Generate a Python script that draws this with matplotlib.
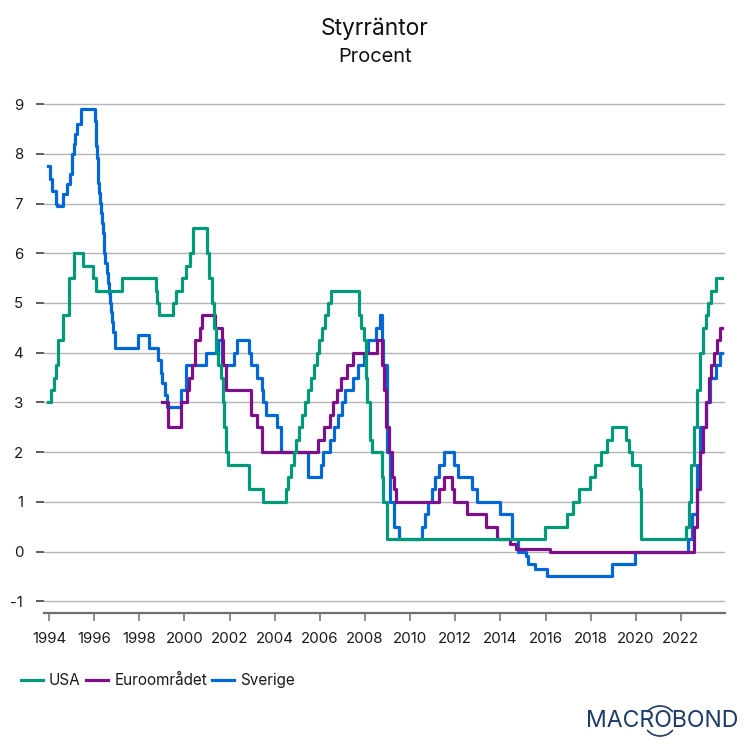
import matplotlib
matplotlib.use('Agg')
import matplotlib.pyplot as plt
from matplotlib.patches import Arc

plt.rcParams['font.family'] = ['Inter', 'DejaVu Sans']
plt.rcParams['axes.unicode_minus'] = False

usa_t = [1993.95, 1994.09, 1994.21, 1994.30, 1994.38, 1994.63, 1994.87, 1995.09, 1995.51, 1995.96, 1996.08,
         1997.23, 1998.75, 1998.80, 1998.88, 1999.50, 1999.65, 1999.88, 2000.09, 2000.23, 2000.38, 2001.01, 2001.09,
         2001.23, 2001.31, 2001.38, 2001.48, 2001.64, 2001.71, 2001.76, 2001.86, 2001.95, 2002.85, 2003.48, 2004.49,
         2004.61, 2004.72, 2004.86, 2004.95, 2005.09, 2005.23, 2005.34, 2005.49, 2005.61, 2005.72, 2005.86, 2005.95,
         2006.09, 2006.23, 2006.36, 2006.49, 2007.72, 2007.83, 2007.95, 2008.06, 2008.08, 2008.21, 2008.30, 2008.77,
         2008.82, 2008.96, 2015.96, 2016.95, 2017.21, 2017.46, 2017.96, 2018.21, 2018.46, 2018.72, 2018.96, 2019.58,
         2019.71, 2019.83, 2020.17, 2020.21, 2022.21, 2022.34, 2022.46, 2022.57, 2022.72, 2022.84, 2022.96, 2023.09,
         2023.21, 2023.34, 2023.57, 2023.80]
usa_v = [3.0, 3.25, 3.5, 3.75, 4.25, 4.75, 5.5, 6.0, 5.75, 5.5, 5.25,
         5.5, 5.25, 5.0, 4.75, 5.0, 5.25, 5.5, 5.75, 6.0, 6.5, 6.0, 5.5,
         5.0, 4.5, 4.0, 3.75, 3.5, 3.0, 2.5, 2.0, 1.75, 1.25, 1.0, 1.25,
         1.5, 1.75, 2.0, 2.25, 2.5, 2.75, 3.0, 3.25, 3.5, 3.75, 4.0, 4.25,
         4.5, 4.75, 5.0, 5.25, 4.75, 4.5, 4.25, 3.5, 3.0, 2.25, 2.0, 1.5,
         1.0, 0.25, 0.5, 0.75, 1.0, 1.25, 1.5, 1.75, 2.0, 2.25, 2.5, 2.25,
         2.0, 1.75, 1.25, 0.25, 0.5, 1.0, 1.75, 2.5, 3.25, 4.0, 4.5, 4.75,
         5.0, 5.25, 5.5, 5.5]

euro_t = [1999.0, 1999.27, 1999.85, 2000.10, 2000.22, 2000.33, 2000.45, 2000.69, 2000.77, 2001.37, 2001.67,
          2001.72, 2001.86, 2002.93, 2003.20, 2003.45, 2005.93, 2006.20, 2006.45, 2006.60, 2006.77, 2006.93, 2007.20,
          2007.45, 2008.52, 2008.77, 2008.85, 2008.93, 2009.05, 2009.20, 2009.27, 2009.36, 2011.27, 2011.52, 2011.85,
          2011.94, 2012.52, 2013.35, 2013.85, 2014.44, 2014.69, 2016.20, 2022.57, 2022.70, 2022.85, 2022.96, 2023.10,
          2023.22, 2023.35, 2023.46, 2023.59, 2023.71, 2023.80]
euro_v = [3.0, 2.5, 3.0, 3.25, 3.5, 3.75, 4.25, 4.5, 4.75, 4.5, 4.25,
          3.75, 3.25, 2.75, 2.5, 2.0, 2.25, 2.5, 2.75, 3.0, 3.25, 3.5, 3.75,
          4.0, 4.25, 3.75, 3.25, 2.5, 2.0, 1.5, 1.25, 1.0, 1.25, 1.5, 1.25,
          1.0, 0.75, 0.5, 0.25, 0.15, 0.05, 0.0, 0.5, 1.25, 2.0, 2.5, 3.0,
          3.5, 3.75, 4.0, 4.25, 4.5, 4.5]

sverige_t = [1993.95, 1994.04, 1994.13, 1994.30, 1994.35, 1994.62, 1994.80, 1994.93, 1995.02, 1995.09, 1995.15, 1995.25,
             1995.42, 1996.04, 1996.07, 1996.10, 1996.13, 1996.16, 1996.19, 1996.22, 1996.26, 1996.30, 1996.34, 1996.38,
             1996.42, 1996.46, 1996.50, 1996.55, 1996.60, 1996.65, 1996.70, 1996.75, 1996.80, 1996.84, 1996.92, 1997.95,
             1998.42, 1998.85, 1998.95, 1999.02, 1999.12, 1999.25, 1999.85,
             2000.08, 2000.97, 2001.50, 2001.68, 2002.20, 2002.32, 2002.87, 2002.96, 2003.20, 2003.45, 2003.50, 2003.60,
             2004.10, 2004.28, 2005.47, 2006.05, 2006.15, 2006.47, 2006.62, 2006.80, 2006.96, 2007.13, 2007.47, 2007.70,
             2007.95, 2008.13, 2008.50, 2008.68, 2008.76, 2008.80, 2008.96, 2009.13, 2009.30, 2009.50, 2010.52, 2010.68,
             2010.80, 2010.96, 2011.12, 2011.30, 2011.50, 2011.96, 2012.14, 2012.72, 2012.97, 2013.96, 2014.52, 2014.80,
             2015.13, 2015.21, 2015.52, 2016.05, 2018.96, 2019.95, 2022.33, 2022.47, 2022.70, 2022.85, 2023.10, 2023.30,
             2023.55, 2023.72, 2023.80]
sverige_v = [7.75, 7.5, 7.25, 7.0, 6.95, 7.2, 7.4, 7.6, 8.0, 8.2, 8.4, 8.6,
             8.91, 8.66, 8.41, 8.16, 7.91, 7.66, 7.41, 7.21, 7.01, 6.81, 6.61, 6.41,
             6.21, 6.01, 5.81, 5.61, 5.41, 5.21, 5.01, 4.81, 4.61, 4.41, 4.1, 4.35,
             4.1, 3.85, 3.6, 3.4, 3.15, 2.9, 3.25,
             3.75, 4.0, 4.25, 3.75, 4.0, 4.25, 4.0, 3.75, 3.5, 3.25, 3.0, 2.75,
             2.5, 2.0, 1.5, 1.75, 2.0, 2.25, 2.5, 2.75, 3.0, 3.25, 3.5, 3.75,
             4.0, 4.25, 4.5, 4.75, 4.25, 3.75, 2.0, 1.0, 0.5, 0.25, 0.5, 0.75,
             1.0, 1.25, 1.5, 1.75, 2.0, 1.75, 1.5, 1.25, 1.0, 0.75, 0.25, 0.0,
             -0.1, -0.25, -0.35, -0.5, -0.25, 0.0, 0.25, 0.75, 1.75, 2.5, 3.0, 3.5,
             3.75, 4.0, 4.0]

x_ticks = list(range(1994, 2024, 2))
y_ticks = list(range(-1, 10))

fig = plt.figure(figsize=(7.5, 7.5), dpi=100)
ax = fig.add_axes([44 / 750, 1 - 613 / 750, (725 - 44) / 750, (613 - 80) / 750])

ax.step(sverige_t, sverige_v, where='post', color='#0068d6', lw=2.3, label='Sverige', zorder=3,
        solid_joinstyle='round')
ax.step(euro_t, euro_v, where='post', color='#7e0f8a', lw=2.3, label='Euroområdet', zorder=4,
        solid_joinstyle='round')
ax.step(usa_t, usa_v, where='post', color='#009a78', lw=2.3, label='USA', zorder=5,
        solid_joinstyle='round')

ax.set_xlim(1993.78, 2023.95)
# 0 at y=551.5, 49.7 px per unit
ax.set_ylim(-(613 - 551.5) / 49.7, (551.5 - 80) / 49.7)
ax.set_xticks(x_ticks)
ax.set_yticks(y_ticks)

ax.grid(axis='y', color='#b4b4b4', lw=1.0, zorder=1)
ax.set_axisbelow(True)
for side in ['top', 'right', 'left']:
    ax.spines[side].set_visible(False)
ax.spines['bottom'].set_color('#707070')
ax.spines['bottom'].set_linewidth(1.6)
ax.tick_params(axis='x', length=6, width=1.1, color='#707070', pad=8, labelsize=10.8, labelcolor='#1a1a1a')
ax.tick_params(axis='y', length=6, width=1.1, color='#303030', pad=9, labelsize=10.8, labelcolor='#1a1a1a')

fig.text(375 / 750, 1 - 28.5 / 750, 'Styrräntor', ha='center', va='center', fontsize=16.4, color='#111111')
fig.text(375 / 750, 1 - 57.5 / 750, 'Procent', ha='center', va='center', fontsize=14.4, color='#111111')

handles, labels = ax.get_legend_handles_labels()
leg = fig.legend(handles[::-1], labels[::-1], loc='center left', bbox_to_anchor=(21 / 750, 1 - 680.5 / 750), ncol=3,
                 frameon=False, fontsize=11, handlelength=1.44, handletextpad=0.4, columnspacing=0.35,
                 borderpad=0, borderaxespad=0)
for text in leg.get_texts():
    text.set_color('#1a1a1a')

# logo
logo_color = '#1d3c66'
fig.text(662 / 750, 1 - 721 / 750, 'MACROBOND', ha='center', va='center', fontsize=16.6, color=logo_color)
logo_ax = fig.add_axes([0, 0, 1, 1], facecolor='none')
logo_ax.set_xlim(0, 750)
logo_ax.set_ylim(750, 0)
logo_ax.axis('off')
logo_ax.add_patch(Arc((660, 721), 32, 30, theta1=215, theta2=325, color=logo_color, lw=1.2))
logo_ax.add_patch(Arc((660, 721), 32, 30, theta1=35, theta2=145, color=logo_color, lw=1.2))

fig.savefig('out.png', dpi=100)
